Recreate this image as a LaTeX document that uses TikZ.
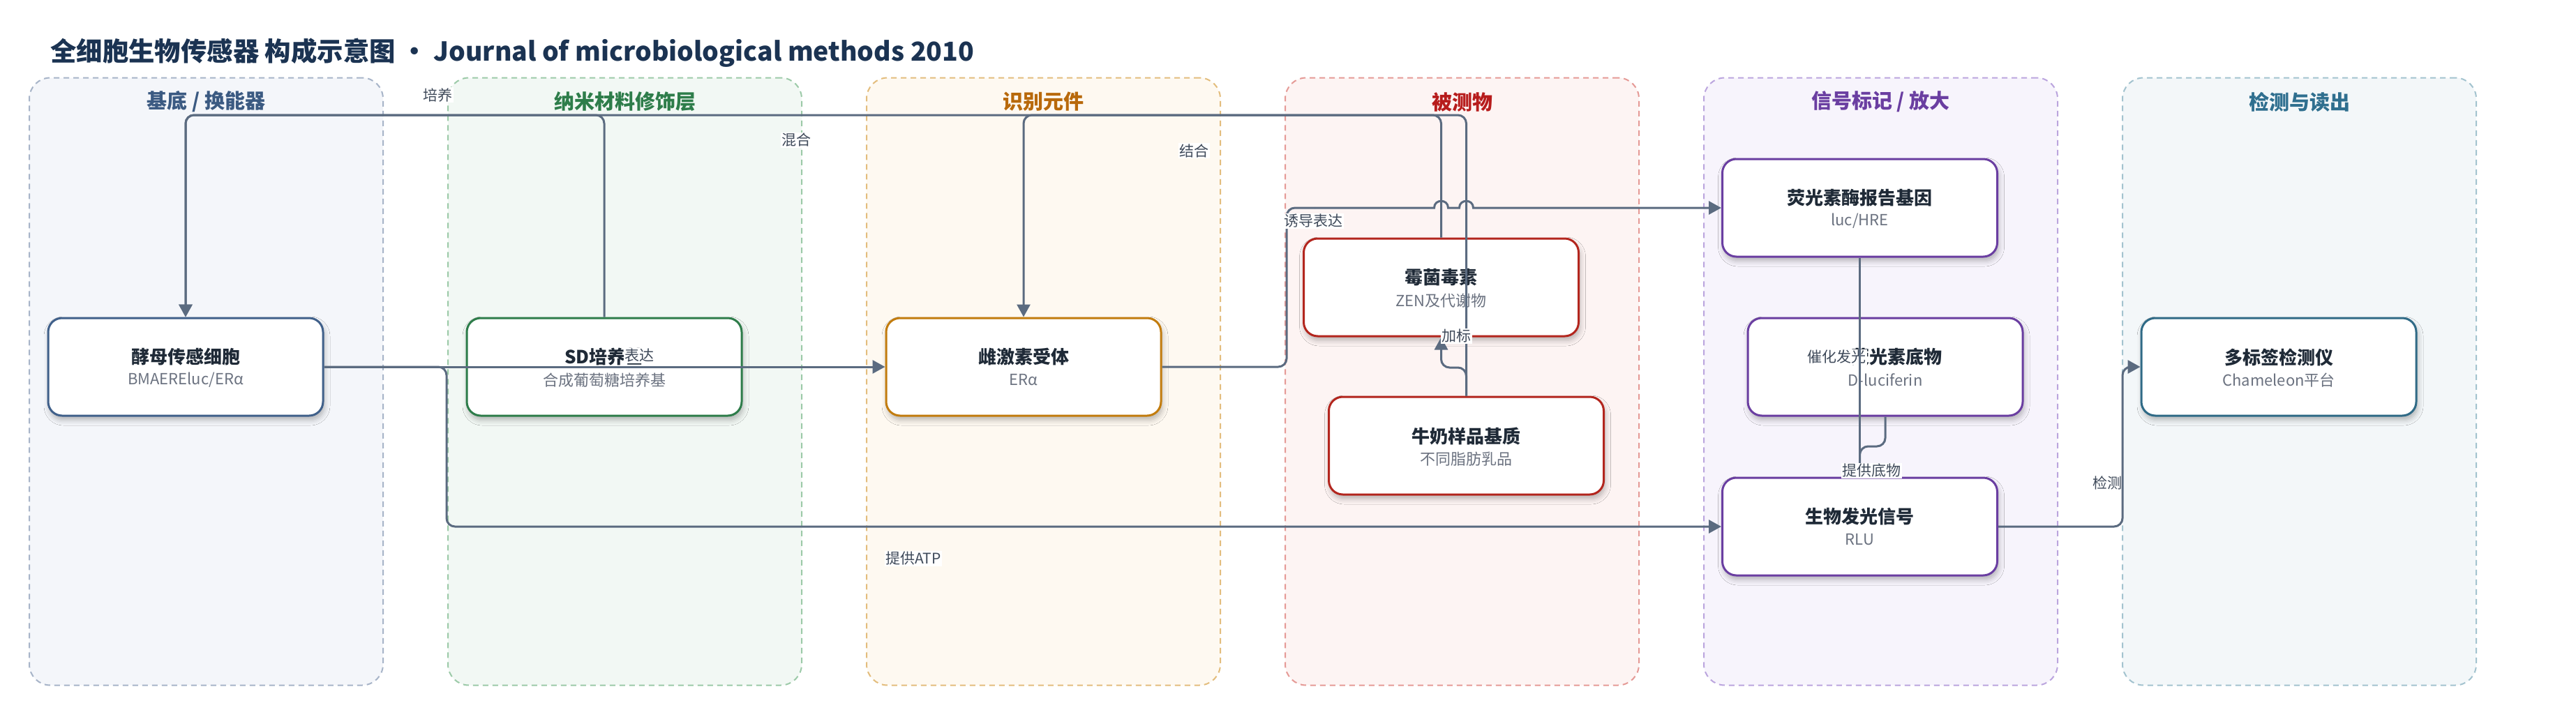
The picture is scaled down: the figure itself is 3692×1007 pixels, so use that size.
\documentclass[tikz,border=0pt]{standalone}
\usepackage{fontspec}
\setmainfont{Noto Sans CJK SC}
\usetikzlibrary{arrows.meta,shadows.blur,calc}
\definecolor{titlec}{HTML}{1B3352}
\definecolor{inkc}{HTML}{1F2A37}
\definecolor{subc}{HTML}{6B7280}
\definecolor{edgec}{HTML}{5B6B80}
\definecolor{labc}{HTML}{3F4A5A}
% lane colours
\definecolor{fA}{HTML}{F4F6FA}\definecolor{bA}{HTML}{A7B4C8}\definecolor{tA}{HTML}{3B5A82}\definecolor{nA}{HTML}{40608A}
\definecolor{fB}{HTML}{F2F8F4}\definecolor{bB}{HTML}{9CCAA8}\definecolor{tB}{HTML}{2E7D4A}\definecolor{nB}{HTML}{2E7D4A}
\definecolor{fC}{HTML}{FEF9F1}\definecolor{bC}{HTML}{E3BD7D}\definecolor{tC}{HTML}{B8690B}\definecolor{nC}{HTML}{C27C0E}
\definecolor{fD}{HTML}{FDF4F3}\definecolor{bD}{HTML}{E59A96}\definecolor{tD}{HTML}{B71C1C}\definecolor{nD}{HTML}{B3261E}
\definecolor{fE}{HTML}{F7F4FC}\definecolor{bE}{HTML}{BBA5DE}\definecolor{tE}{HTML}{6A3EA1}\definecolor{nE}{HTML}{6A3EA1}
\definecolor{fF}{HTML}{F3F7F9}\definecolor{bF}{HTML}{A3C3CF}\definecolor{tF}{HTML}{2F6F8F}\definecolor{nF}{HTML}{2F6A86}
\begin{document}
\begin{tikzpicture}[x=1pt,y=-1pt,
  lane/.style={rounded corners=30pt, line width=2pt, dash pattern=on 8pt off 6pt,
    minimum width=507pt, minimum height=871pt, inner sep=0pt},
  lanetitle/.style={font=\bfseries\fontsize{29pt}{33pt}\selectfont, inner sep=0pt},
  box/.style={draw, line width=3pt, rounded corners=20pt, fill=white,
    minimum width=394pt, minimum height=140pt, inner sep=0pt,
    blur shadow={shadow xshift=2pt, shadow yshift=-6pt, shadow blur radius=8pt, shadow opacity=28}},
  ttl/.style={font=\bfseries\fontsize{26pt}{30pt}\selectfont, text=inkc, inner sep=0pt},
  subt/.style={font=\fontsize{22pt}{26pt}\selectfont, text=subc, inner sep=0pt},
  edge/.style={draw=edgec, line width=3pt, rounded corners=12pt},
  arr/.style={-{Triangle[length=18pt,width=19pt]}},
  elabel/.style={fill=white, inner sep=1.5pt, font=\fontsize{21pt}{24pt}\selectfont, text=labc}
]
\useasboundingbox (0,0) rectangle (3692,1007);
\fill[white] (0,0) rectangle (3692,1007);

% title
\node[anchor=west, inner sep=0pt, text=titlec, font=\bfseries\fontsize{37.4pt}{44pt}\selectfont] (title) at (72,76)
  {全细胞生物传感器 构成示意图 • Journal of microbiological methods 2010};

% lanes
\node[lane, draw=bA, fill=fA] (laneA) at (295.5,547) {};
\node[lane, draw=bB, fill=fB] (laneB) at (895.5,547) {};
\node[lane, draw=bC, fill=fC] (laneC) at (1495.5,547) {};
\node[lane, draw=bD, fill=fD] (laneD) at (2095.5,547) {};
\node[lane, draw=bE, fill=fE] (laneE) at (2695.5,547) {};
\node[lane, draw=bF, fill=fF] (laneF) at (3295.5,547) {};
\node[lanetitle, text=tA] (laneA-t) at (295.5,146) {基底 / 换能器};
\node[lanetitle, text=tB] (laneB-t) at (895.5,146) {纳米材料修饰层};
\node[lanetitle, text=tC] (laneC-t) at (1495.5,146) {识别元件};
\node[lanetitle, text=tD] (laneD-t) at (2095.5,146) {被测物};
\node[lanetitle, text=tE] (laneE-t) at (2695.5,146) {信号标记 / 放大};
\node[lanetitle, text=tF] (laneF-t) at (3295.5,146) {检测与读出};

% nodes
\node[box, draw=nA] (yeast) at (266,526) {};
\node[box, draw=nB] (sd) at (866,526) {};
\node[box, draw=nC] (er) at (1467,526) {};
\node[box, draw=nD] (toxin) at (2065.5,412) {};
\node[box, draw=nD] (milk) at (2101.5,639) {};
\node[box, draw=nE] (luc) at (2665.5,298) {};
\node[box, draw=nE] (sub) at (2702,526) {};
\node[box, draw=nE] (lum) at (2665.5,755) {};
\node[box, draw=nF] (det) at (3266,526) {};

\foreach \n/\t/\s in {yeast/酵母传感细胞/{BMAEREluc/ERα}, sd/SD培养基/合成葡萄糖培养基,
  er/雌激素受体/ERα, toxin/霉菌毒素/ZEN及代谢物, milk/牛奶样品基质/不同脂肪乳品,
  luc/荧光素酶报告基因/{luc/HRE}, lum/生物发光信号/RLU,
  det/多标签检测仪/Chameleon平台}{
  \node[ttl] (\n-t) at ($(\n.center)+(0,-14)$) {\t};
  \node[subt] (\n-s) at ($(\n.center)+(0,19)$) {\s};
}
\node[ttl] (sub-t) at ($(sub.center)+(16,-14)$) {荧光素底物};
\node[subt] (sub-s) at ($(sub.center)+(0,19)$) {D-luciferin};

% helper coordinates
\coordinate (topy) at (0,165);
\coordinate (atpx) at (640,0);
\coordinate (indx) at (1844,0);
\coordinate (spikey) at (0,527);
\coordinate (suby) at (0,640);
\coordinate (detx) at (3042,0);

% connectors
\draw[edge,arr] (sd.north) -- (sd.north |- topy) -- (yeast.north |- topy) -- (yeast.north);
\draw[edge,arr] (milk.north) -- (milk.north |- topy) -- (yeast.north |- topy) -- (yeast.north);
\draw[edge,arr] (toxin.north) -- (toxin.north |- topy) -- (er.north |- topy) -- (er.north);
\draw[edge,arr] (milk.north) -- (milk.north |- spikey) -- (toxin.south |- spikey) -- (toxin.south);
\draw[edge,arr] (yeast.east) -- (er.west);
\draw[edge,arr] (yeast.east) -- (yeast.east -| atpx) -- (atpx |- lum.west) -- (lum.west);
\draw[edge] (er.east) -- (er.east -| indx) -- (indx |- luc.west) -- ($(indx |- luc.west)+(40,0)$);
\draw[edge, sharp corners, arr] ($(indx |- luc.west)+(40,0)$)
  -- ($(toxin.north |- luc.west)+(-10,0)$)
  .. controls +(0,-13) and +(0,-13) .. ($(toxin.north |- luc.west)+(10,0)$)
  -- ($(milk.north |- luc.west)+(-10,0)$)
  .. controls +(0,-13) and +(0,-13) .. ($(milk.north |- luc.west)+(10,0)$)
  -- (luc.west);
\draw[edge,arr] (sub.south) -- (sub.south |- suby) -- (lum.north |- suby) -- (lum.north);

% connector labels
\node[elabel] (lb-peiyang) at (627,136) {培养};
\node[elabel] (lb-hunhe) at (1141,201) {混合};
\node[elabel] (lb-jiehe) at (1711,216) {结合};
\node[elabel] (lb-biaoda) at (916,510) {表达};
\node[elabel] (lb-youdao) at (1882,317) {诱导表达};
\node[elabel] (lb-jiabiao) at (2087,482) {加标};
\node[elabel] (lb-cuihua) at (2632,512) {催化发光};
\node[elabel] (lb-jiance) at (3020,692) {检测};
\node[elabel] (lb-atp) at (1309,801) {提供ATP};

\draw[edge,arr] (luc.south) -- (lum.north);
\draw[edge,arr] (lum.east) -- (lum.east -| detx) -- (detx |- det.west) -- (det.west);
\node[elabel] (lb-tigong) at (2682,675) {提供底物};
\end{tikzpicture}
\end{document}
